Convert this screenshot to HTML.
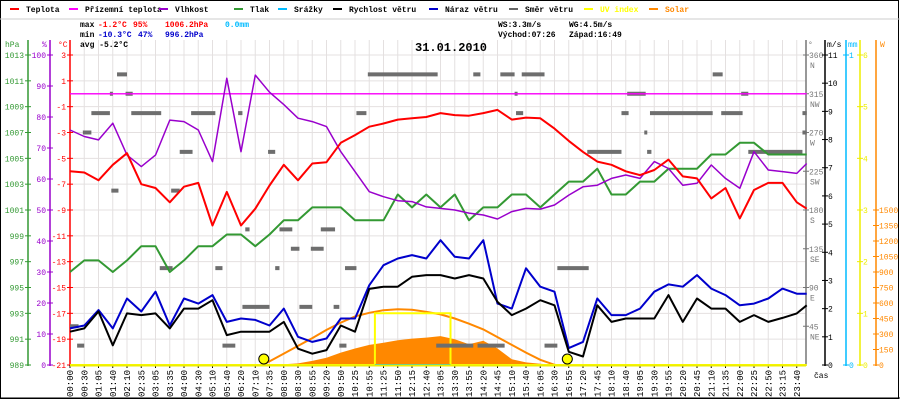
<!DOCTYPE html>
<html><head><meta charset="utf-8"><style>
html,body{margin:0;padding:0;background:#fff;}
svg{display:block;font-family:"Liberation Mono",monospace;}
</style></head><body>
<svg id="c" width="900" height="400" viewBox="0 0 900 400" xmlns="http://www.w3.org/2000/svg">
<rect x="0.5" y="0.5" width="898" height="398" fill="#fff" stroke="#000"/>
<line x1="0" y1="19" x2="900" y2="19" stroke="#ccc"/>
<g id="grid"></g>
<g id="legend" font-size="8" font-weight="bold"></g>
<g font-size="8" font-weight="bold">
<text x="80" y="27" fill="#000">max</text>
<text x="98" y="27" fill="#f00">-1.2°C</text>
<text x="133" y="27" fill="#f00">95%</text>
<text x="165" y="27" fill="#f00">1006.2hPa</text>
<text x="225" y="27" fill="#0bf">0.0mm</text>
<text x="80" y="37" fill="#000">min</text>
<text x="98" y="37" fill="#00c">-10.3°C</text>
<text x="138" y="37" fill="#00c">47%</text>
<text x="165" y="37" fill="#00c">996.2hPa</text>
<text x="80" y="47" fill="#000">avg -5.2°C</text>
<text x="498" y="27" fill="#000">WS:3.3m/s</text>
<text x="569" y="27" fill="#000">WG:4.5m/s</text>
<text x="498" y="37" fill="#000">Východ:07:26</text>
<text x="569" y="37" fill="#000">Západ:16:49</text>
</g>
<text x="415" y="51" font-size="12" font-weight="bold" fill="#000">31.01.2010</text>
<g id="axes" font-size="8"></g>
<g id="series"></g>
</svg>
<script>
// ---- data ----
const timeLabels=["00:00","00:30","01:05","01:40","02:10","02:35","03:05","03:35","04:00","04:30","05:10","05:40","06:20","07:10","07:35","08:00","08:30","08:55","09:20","09:50","10:25","10:55","11:25","11:50","12:15","12:40","13:05","13:30","13:55","14:20","14:45","15:10","15:40","16:05","16:30","16:55","17:20","17:45","18:10","18:40","19:05","19:30","19:55","20:20","20:45","21:10","21:35","22:00","22:25","22:50","23:15","23:40"];
const sampleIdx=[0,1,2,3,4,5,6,7,8,9,10,11,12,13,14,15,16,17,18,19,20,21,22,23,24,25,26,27,28,29,30,31,32,33,34,35,36,37,38,39,40,41,42,43,44,45,46,47,48,49,50,51,51.7];
const temperature=[-6.0,-6.1,-6.7,-5.5,-4.6,-7.0,-7.3,-8.4,-7.2,-6.9,-10.2,-7.6,-10.2,-8.9,-7.1,-5.5,-6.7,-5.4,-5.3,-3.8,-3.2,-2.55,-2.3,-2.0,-1.9,-1.8,-1.5,-1.65,-1.7,-1.5,-1.25,-2.0,-1.85,-1.9,-2.7,-3.65,-4.5,-5.25,-5.5,-6.0,-6.3,-5.9,-5.1,-6.4,-6.55,-8.1,-7.3,-9.65,-7.45,-6.9,-6.9,-8.4,-8.9];
const feelsLike=[0,0,0,0,0,0,0,0,0,0,0,0,0,0,0,0,0,0,0,0,0,0,0,0,0,0,0,0,0,0,0,0,0,0,0,0,0,0,0,0,0,0,0,0,0,0,0,0,0,0,0,0,0];
const humidity=[75.8,73.7,72.6,78,67.7,64,67.7,79,78.5,75.8,65.6,92.5,68.8,93.5,88,84,79.6,78.5,76.9,68.8,62.4,55.9,54.3,53,52.7,51,50.5,50,49,48.4,47.1,49.5,50.5,50.3,51.6,54.8,57.5,58,60.2,61.3,60.2,65.6,63.4,58,58.6,64.5,60.2,57,68.8,62.9,62.4,61.8,65];
const pressure=[996.2,997.1,997.1,996.2,997.1,998.2,998.2,996.2,997.1,998.2,998.2,999.1,999.1,998.2,999.1,1000.2,1000.2,1001.2,1001.2,1001.2,1000.2,1000.2,1000.2,1002.2,1001.2,1002.2,1001.2,1002.2,1000.2,1001.2,1001.2,1002.2,1002.2,1001.2,1002.2,1003.2,1003.2,1004.2,1002.2,1002.2,1003.2,1003.2,1004.2,1004.2,1004.2,1005.3,1005.3,1006.2,1006.2,1005.3,1005.3,1005.3,1005.3];
const windSpeed=[1.18,1.3,1.9,0.7,1.83,1.77,1.83,1.3,2.0,2.0,2.3,1.06,1.18,1.18,1.18,1.53,0.58,0.4,0.53,1.4,1.18,2.7,2.78,2.78,3.13,3.19,3.19,3.07,3.19,3.07,2.24,1.77,2.0,2.3,2.12,0.47,0.3,2.12,1.53,1.65,1.65,1.65,2.48,1.53,2.36,2.0,2.0,1.53,1.77,1.53,1.67,1.83,2.12];
const windGust=[1.3,1.4,1.95,1.3,2.36,1.9,2.6,1.4,2.36,2.18,2.48,1.53,1.65,1.6,1.4,2.0,1.0,0.82,0.94,1.65,1.65,2.83,3.54,3.78,3.9,3.78,4.43,3.84,3.78,4.43,2.18,2.0,3.43,2.78,2.6,0.6,0.82,2.36,1.77,1.77,2.0,2.6,2.86,2.78,3.19,2.71,2.48,2.12,2.18,2.36,2.71,2.53,2.53];
const dirStart=[3.3,20.9,28.3,30.2,31.7,45.1,2.8,3.9,31.2,39.1,47.1,1.5,4.3,8.5,11.8,20.1,31.3,38.7,40.7,45.7,51.4,0.9,40.3,51.4,7.7,13.9,40.5,36.3,47.6,2.9,7.1,12.3,14.7,17.6,15.5,16.9,6.3,10.2,14.4,19.3,34.2,12.1,16.1,18.5,0,0.5,10.7,18.9,25.7,28.6,33.3];
const dirEnd=[4.0,25.8,28.8,31.2,33.3,45.8,3.0,4.4,31.4,40.4,47.6,2.8,6.4,10.2,12.1,20.8,31.8,39.2,45.1,47.2,51.7,1.5,40.5,51.7,8.6,14.4,40.8,38.7,51.4,3.4,7.7,12.6,15.6,18.6,16.1,17.8,7.2,10.7,14.7,20.1,36.4,14.0,17.0,18.9,0.6,1.0,11.6,19.4,28.3,30.5,34.2];
const dirDeg=[337.5,337.5,337.5,337.5,337.5,337.5,315,315,315,315,315,292.5,292.5,292.5,292.5,292.5,292.5,292.5,292.5,292.5,292.5,270,270,270,247.5,247.5,247.5,247.5,247.5,202.5,202.5,157.5,157.5,157.5,135,135,112.5,112.5,112.5,112.5,112.5,67.5,67.5,67.5,45,22.5,22.5,22.5,22.5,22.5,22.5];
const solarIdx=[13.5,14,15,16,17,18,19,20,21,22,23,24,25,26,27,28,29,30,31,32,33,34,34.1];
const solarMeasured=[0,3,8,15,40,70,120,160,195,215,240,255,265,280,250,200,235,160,55,25,12,0,0];
const solarTheory=[0,35,110,185,260,340,410,470,505,530,540,535,515,490,450,400,345,270,195,120,50,2,0];
const uvIdx=[0,21.4,21.4,26.7,26.7,51.7];
const uvValues=[0,0,1,1,0,0];
const sunEvents=[13.6,34.9];
const tempTicks=[3,1,-1,-3,-5,-7,-9,-11,-13,-15,-17,-19,-21];
const humTicks=[100,90,80,70,60,50,40,30,20,10,0];
const pressTicks=[1013,1011,1009,1007,1005,1003,1001,999,997,995,993,991,989];
const dirTicks=[360,315,270,225,180,135,90,45];
const dirNames=["N","NW","W","SW","S","SE","E","NE"];
const windTicks=[0,1,2,3,4,5,6,7,8,9,10,11];
const uvTicks=[0,1,2,3,4,5,6];
const solarTicks=[0,150,300,450,600,750,900,1050,1200,1350,1500];

// ---- scales ----
const Y0=365,Y1=55,X0=70,DX=14.25;
const xS=i=>X0+i*DX;
const yT=v=>Y0-(v+21)/24*(Y0-Y1);
const yH=v=>Y0-v/100*(Y0-Y1);
const yP=v=>Y0-(v-989)/24*(Y0-Y1);
const yW=v=>Y0-v/11*(Y0-Y1);
const yD=v=>Y0-v/360*(Y0-Y1);
const yU=v=>Y0-v/6*(Y0-Y1);
const yS=v=>Y0-v/3000*(Y0-Y1);
const NS="http://www.w3.org/2000/svg";
function mk(tag,attrs,parent){const e=document.createElementNS(NS,tag);for(const k in attrs)e.setAttribute(k,attrs[k]);parent.appendChild(e);return e;}
const grid=document.getElementById('grid'),axes=document.getElementById('axes'),ser=document.getElementById('series'),leg=document.getElementById('legend');

// grid
timeLabels.forEach((t,i)=>{const l=mk('line',{x1:xS(i),x2:xS(i),y1:40,y2:Y0,stroke:'#e4e0e0'},grid);

});
tempTicks.forEach(v=>{const l=mk('line',{x1:X0,x2:806,y1:yT(v),y2:yT(v),stroke:'#e4e0e0'},grid);

});
const zl=mk('line',{x1:X0,x2:806,y1:yT(0),y2:yT(0),stroke:'#888'},grid);



// legend
const legItems=[["Teplota","#f00",10],["Přízemní teplota","#f0f",69],["Vlhkost","#90c",159],["Tlak","#393",234],["Srážky","#0bf",278],["Rychlost větru","#000",333],["Náraz větru","#00c",429],["Směr větru","#666",509],["UV index","#ff0",584],["Solar","#f80",649]];
legItems.forEach(([n,c,x])=>{const g=mk('g',{},leg);


mk('rect',{x:x,y:8,width:9,height:2,fill:c},g);
const t=mk('text',{x:x+16,y:12,fill:(n==='UV index'||n==='Solar')?c:'#000'},g);t.textContent=n;});

// axes helper
function vaxis(x,color,ticks,yf,labelSide,name,fmt,extra){
 const g=mk('g',{},axes);
 
 
 mk('line',{x1:x,x2:x,y1:40,y2:Y0+1,stroke:color,'stroke-width':1.5},g);
 ticks.forEach((v,k)=>{const y=yf(v);mk('line',{x1:x-3,x2:x+3,y1:y,y2:y,stroke:color},g);
  const t=mk('text',{x:labelSide<0?x-4:x+3,y:y+3,fill:color,'text-anchor':labelSide<0?'end':'start'},g);t.textContent=fmt?fmt(v,k):v;
  if(extra&&extra[k]){const t2=mk('text',{x:x+4,y:y+13,fill:color},g);t2.textContent=extra[k];}});
 return g;}
vaxis(28,'#393',pressTicks,yP,-1,'pressure-axis');
vaxis(50,'#90c',humTicks,yH,-1,'humidity-axis');
vaxis(70,'#f00',tempTicks,yT,-1,'temperature-axis');
vaxis(806,'#777',dirTicks,yD,1,'direction-axis',null,dirNames);
vaxis(825,'#000',windTicks,yW,1,'wind-axis');
vaxis(846,'#0bf',[0,1],v=>v?Y1:Y0,1,'rain-axis');
vaxis(860,'#ee0',uvTicks,yU,1,'uv-axis');
vaxis(876,'#f80',solarTicks,yS,1,'solar-axis');
[["hPa",5,'#393'],["%",42,'#90c'],["°C",58,'#f00'],["°",808,'#777'],["m/s",827,'#000'],["mm",848,'#0bf'],["W",880,'#f80']].forEach(([s,x,c])=>{const t=mk('text',{x:x,y:47,fill:c},axes);t.textContent=s;

});
// x axis
const xa=mk('g',{},axes);


timeLabels.forEach((s,i)=>{const x=xS(i);mk('line',{x1:x,x2:x,y1:Y0,y2:Y0+3,stroke:'#000'},xa);
 const t=mk('text',{transform:`translate(${x+3},397) rotate(-90)`,fill:'#000','font-size':9},xa);t.textContent=s;});
const cas=mk('text',{x:814,y:378,fill:'#000'},xa);cas.textContent='čas';
mk('line',{x1:0,x2:900,y1:398,y2:398,stroke:'#000'},xa);

// series
function path(xs,ys,xf,yf){return xs.map((v,k)=>(k?'L':'M')+xf(v).toFixed(1)+','+yf(ys[k]).toFixed(1)).join('');}
const sf=mk('path',{d:path(solarIdx,solarMeasured,xS,yS)+'Z',fill:'#f80'},ser);


const st=mk('path',{d:path(solarIdx,solarTheory,xS,yS),fill:'none',stroke:'#f80','stroke-width':2},ser);


const uv=mk('path',{d:path(uvIdx,uvValues,xS,yU),fill:'none',stroke:'#ff0','stroke-width':2},ser);


const rn=mk('line',{x1:xS(21.4),x2:xS(26.7),y1:Y0,y2:Y0,stroke:'#0bf','stroke-width':2},ser);


dirDeg.forEach((d,k)=>{const r=mk('rect',{x:xS(dirStart[k]),y:yD(d)-2,width:Math.max(3,xS(dirEnd[k])-xS(dirStart[k])),height:4,fill:'#6e6e6e'},ser);

});
[[pressure,yP,'#393',2,'pressure-line'],[feelsLike,yT,'#f0f',1.3,'feels-like-line'],[humidity,yH,'#90c',1.5,'humidity-line'],[temperature,yT,'#f00',2,'temperature-line'],[windGust,yW,'#00c',2,'wind-gust-line'],[windSpeed,yW,'#000',2,'wind-speed-line']].forEach(([arr,yf,c,w,n])=>{
 const p=mk('path',{d:path(sampleIdx,arr,xS,yf),fill:'none',stroke:c,'stroke-width':w,'stroke-linejoin':'round'},ser);
 
 });
sunEvents.forEach(i=>{const c=mk('circle',{cx:xS(i),cy:359,r:5,fill:'#ff0',stroke:'#000','stroke-width':1},ser);

});
const bl=mk('line',{x1:X0,x2:806,y1:Y0+0.5,y2:Y0+0.5,stroke:'#ee0','stroke-width':2},ser);


</script>
</body></html>
